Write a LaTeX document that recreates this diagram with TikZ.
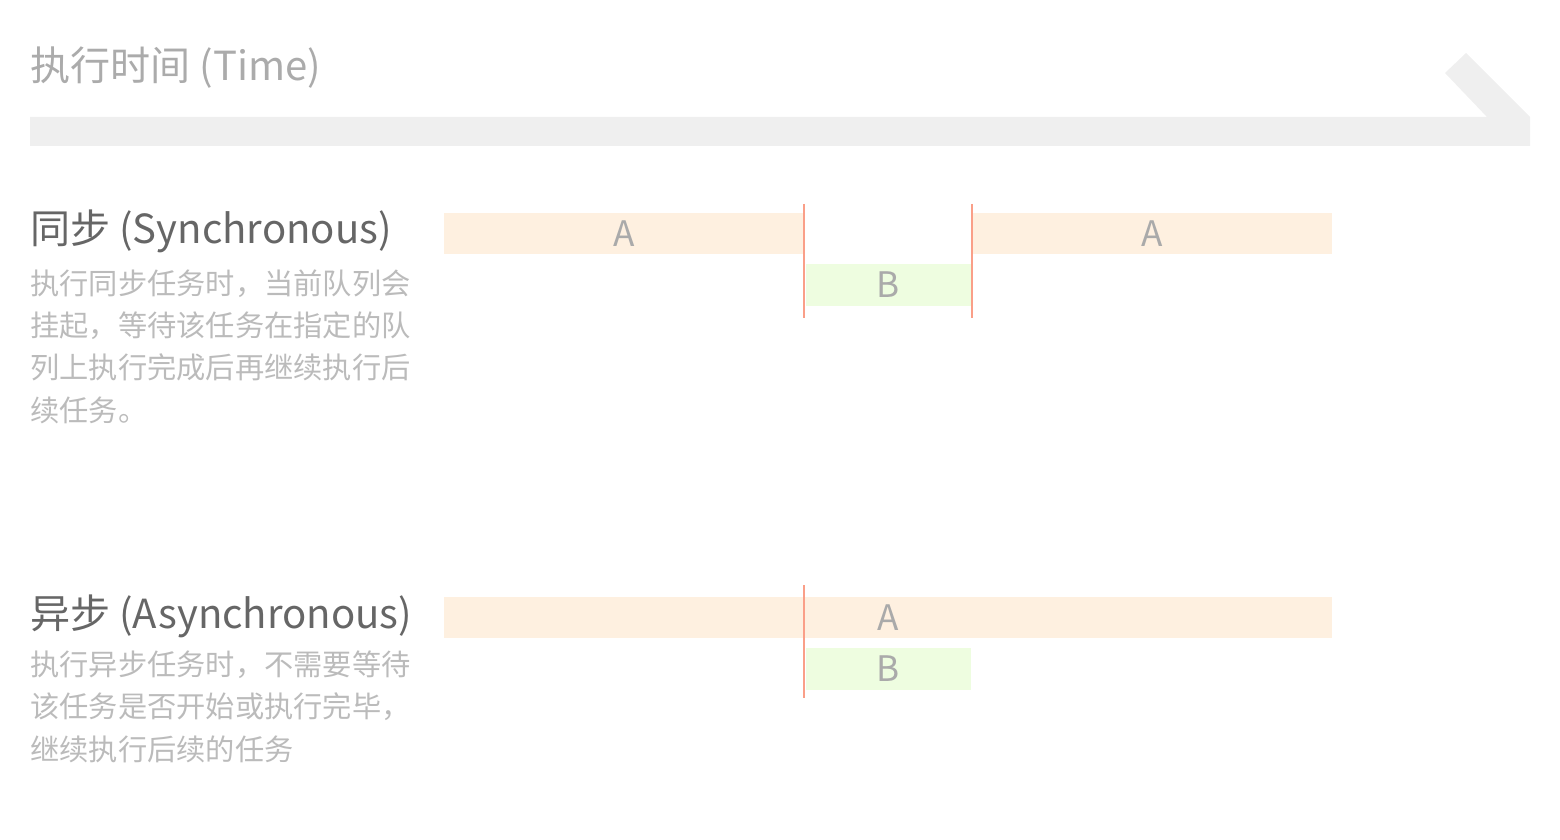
\documentclass[tikz,border=0pt]{standalone}
\usepackage{fontspec}
\setmainfont{Noto Sans CJK SC}
\definecolor{timebar}{HTML}{EFEFEF}
\definecolor{barA}{HTML}{FEF0E0}
\definecolor{barB}{HTML}{EEFDE0}
\definecolor{cutred}{HTML}{FA9F88}
\definecolor{headgray}{HTML}{666666}
\definecolor{timegray}{HTML}{ABABAB}
\definecolor{descgray}{HTML}{BBBBBB}
\definecolor{labelgray}{HTML}{AAAAAA}

\begin{document}
\begin{tikzpicture}[x=0.025cm,y=-0.025cm]
\useasboundingbox (0,0) rectangle (1560,840);

\tikzstyle{head}=[anchor=base west, inner sep=0, text=headgray,
    font=\fontsize{28.5}{34}\selectfont]
% base of a multi-line node is its last line
\tikzstyle{desc}=[anchor=base west, inner sep=0, align=left, text=descgray,
    font=\fontsize{20.8}{29.9}\selectfont]
\tikzstyle{taskA}=[rectangle, fill=barA, inner sep=0, minimum height=1.025cm,
    text=labelgray, font=\fontsize{25}{30}\selectfont]
\tikzstyle{taskB}=[rectangle, fill=barB, inner sep=0, minimum height=1.05cm,
    text=labelgray, font=\fontsize{25}{30}\selectfont]
\tikzstyle{cut}=[draw=cutred, line width=1.4pt]

% time axis
\fill[timebar] (30,117) -- (1487,117) -- (1445,73) -- (1466,53) -- (1530,117)
    -- (1530,146) -- (30,146) -- cycle;
\node[head, text=timegray] (time) at (30,81) {执行时间 (Time)};

% sync
\node[head] (sync) at (30,244) {同步 (Synchronous)};
\node[desc] (syncdesc) at (30,421) {执行同步任务时，当前队列会\\挂起，等待该任务在指定的队\\列上执行完成后再继续执行后\\续任务。};

\node[taskA, minimum width=9cm] (sa1) at (624,233.5) {A};
\node[taskB, minimum width=4.125cm] (sb) at (888.5,285) {B};
\node[taskA, minimum width=8.975cm] (sa2) at (1152.5,233.5) {A};

\coordinate (s1) at (804,204);
\coordinate (s1e) at (804,318);
\coordinate (s2) at (972,204);
\coordinate (s2e) at (972,318);
\draw[cut] (s1) -- (s1e);
\draw[cut] (s2) -- (s2e);

% async
\node[head] (async) at (30,628) {异步 (Asynchronous)};
\node[desc] (asyncdesc) at (30,760) {执行异步任务时，不需要等待\\该任务是否开始或执行完毕，\\继续执行后续的任务};

\node[taskA, minimum width=22.2cm] (aa) at (888,617.5) {A};
\node[taskB, minimum width=4.125cm] (ab) at (888.5,669) {B};

\coordinate (a1) at (804,585);
\coordinate (a1e) at (804,698);
\draw[cut] (a1) -- (a1e);
\end{tikzpicture}
\end{document}
